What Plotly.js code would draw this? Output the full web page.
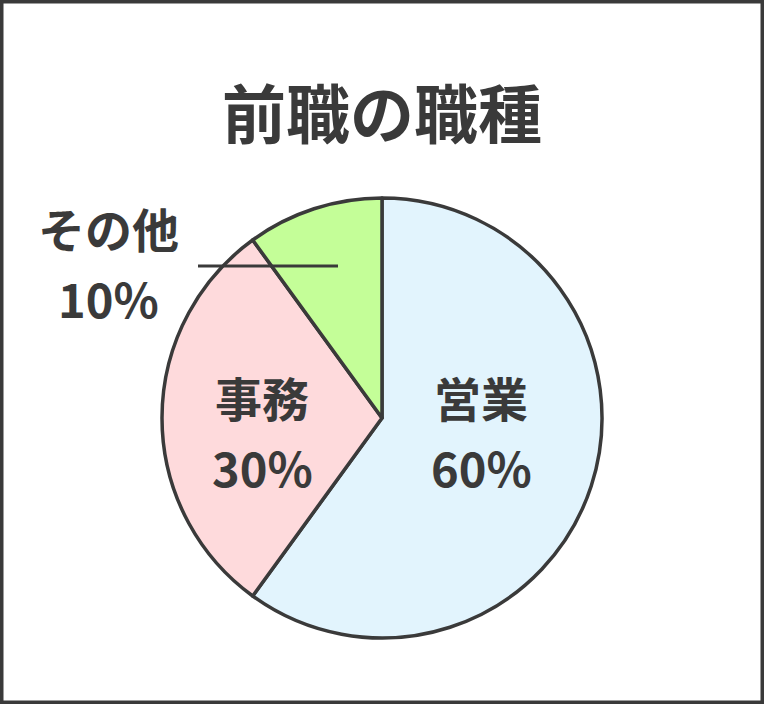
<!DOCTYPE html>
<html>
<head>
<meta charset="utf-8">
<script src="https://cdn.plot.ly/plotly-3.0.1.min.js"></script>
<style>
  body { margin: 0; background: #fff; }
  #chart { width: 764px; height: 704px; }
</style>
</head>
<body>
<div id="chart"></div>
<script>
// data
const jobTypes = ['営業', '事務', 'その他'];
const shares = [60, 30, 10];
const sliceColors = ['#e2f4fd', '#fedadc', '#c4fe98'];

const ink = '#3a3a3a';
const font = 'Noto Sans CJK JP, Noto Sans, sans-serif';

// where each label sits (paper coords), name line and percent line
const labelPos = [
  {x: 0.630, yName: 0.437, yPct: 0.337},
  {x: 0.343, yName: 0.437, yPct: 0.337},
  {x: 0.142, yName: 0.677, yPct: 0.577}
];

plot();

function plot() {
  const trace = {
    type: 'pie',
    labels: jobTypes,
    values: shares,
    sort: false,
    direction: 'clockwise',
    rotation: 0,
    textinfo: 'none',
    hoverinfo: 'label+percent',
    marker: { colors: sliceColors, line: { color: ink, width: 3.5 } },
    domain: { x: [162 / 764, 602 / 764], y: [1 - 638 / 704, 1 - 198 / 704] },
    showlegend: false
  };

  const annotations = [];
  jobTypes.forEach((name, i) => {
    const p = labelPos[i];
    annotations.push({
      xref: 'paper', yref: 'paper', x: p.x, y: p.yName,
      xanchor: 'center', yanchor: 'middle', showarrow: false,
      text: name, font: { family: font, size: 47, color: ink, weight: 'bold' }
    });
    annotations.push({
      xref: 'paper', yref: 'paper', x: p.x, y: p.yPct,
      xanchor: 'center', yanchor: 'middle', showarrow: false,
      text: shares[i] + '%', font: { family: font, size: 47, color: ink, weight: 'bold' }
    });
  });

  const layout = {
    width: 764,
    height: 704,
    margin: { l: 0, r: 0, t: 0, b: 0, pad: 0 },
    paper_bgcolor: '#ffffff',
    title: {
      text: '前職の職種',
      font: { family: font, size: 64, color: ink, weight: 'bold' },
      x: 0.5, xanchor: 'center',
      yref: 'container', y: 1 - 116 / 704, yanchor: 'middle'
    },
    annotations: annotations,
    shapes: [
      // frame round the whole picture
      { type: 'rect', xref: 'paper', yref: 'paper', x0: 0, x1: 1, y0: 0, y1: 1,
        line: { color: ink, width: 7 } },
      // leader line for the small slice
      { type: 'line', xref: 'paper', yref: 'paper',
        x0: 198 / 764, x1: 338 / 764, y0: 1 - 266 / 704, y1: 1 - 266 / 704,
        line: { color: ink, width: 3 } }
    ]
  };

  Plotly.newPlot('chart', [trace], layout, { displayModeBar: false, staticPlot: true });
}
</script>
</body>
</html>
